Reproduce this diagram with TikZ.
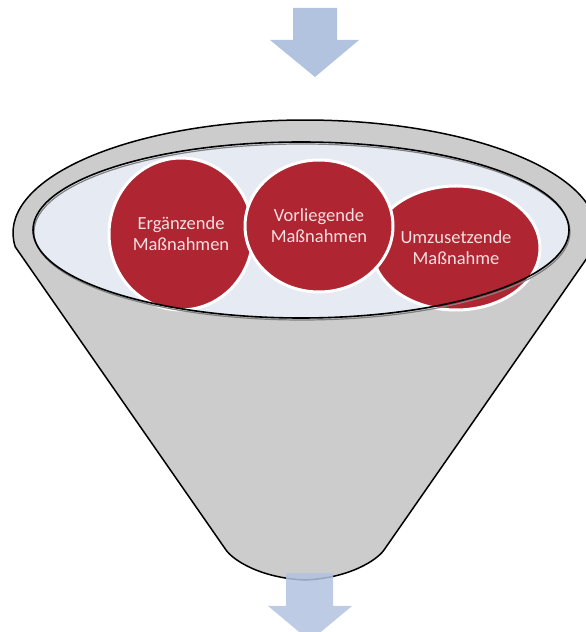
\documentclass[tikz,border=0pt]{standalone}
\usepackage{fontspec}
\setmainfont{Carlito}
\usetikzlibrary{shapes.geometric}

\definecolor{massred}{RGB}{176,37,50}
\definecolor{masstext}{RGB}{243,224,224}
\definecolor{funnelgray}{RGB}{204,204,204}
\definecolor{bowlblue}{RGB}{229,234,243}
\definecolor{arrowblue}{RGB}{178,195,223}

\begin{document}
\begin{tikzpicture}[x=1pt,y=1pt,
  massnahme/.style={ellipse, draw=white, line width=3pt, fill=massred, text=masstext,
    align=center, inner sep=0pt, font=\fontsize{18.5}{21}\selectfont}]

\useasboundingbox (0,0) rectangle (586,632);
\clip (0,0) rectangle (586,632);

% Input arrow
\fill[arrowblue] (293,624) -- (337,624) -- (337,592) -- (359,592) -- (315,555) -- (270,592) -- (293,592) -- cycle;

% Funnel
\filldraw[fill=funnelgray, line width=1.5pt] (15.2,385.2)
  arc[start angle=187, end angle=-7, x radius=292, y radius=113]
  -- (384,82) .. controls (377,72) and (350,54) .. (305,52)
  .. controls (260,54) and (233,72) .. (226,82) -- cycle;

% Output arrow
\fill[arrowblue, fill opacity=0.85] (286,59) -- (333,59) -- (333,26) -- (352,26) -- (310,-9) -- (268,26) -- (286,26) -- cycle;

% Bowl
\fill[bowlblue] (301,402) ellipse[x radius=268, y radius=88];

% Measures
\node[massnahme, minimum width=144pt, minimum height=152pt] (ergaenzend) at (181,398) {Ergänzende\\Maßnahmen};
\node[massnahme, minimum width=168pt, minimum height=124pt] (umzusetzend) at (456,384) {Umzusetzende\\Maßnahme};
\node[massnahme, minimum width=148pt, minimum height=132pt] (vorliegend) at (319,406) {Vorliegende\\Maßnahmen};

% Bowl rim
\draw[gray, line width=1.2pt] (302,400) ellipse[x radius=268, y radius=88];
\draw[line width=1.6pt] (301,402) ellipse[x radius=268, y radius=88];

\end{tikzpicture}
\end{document}
